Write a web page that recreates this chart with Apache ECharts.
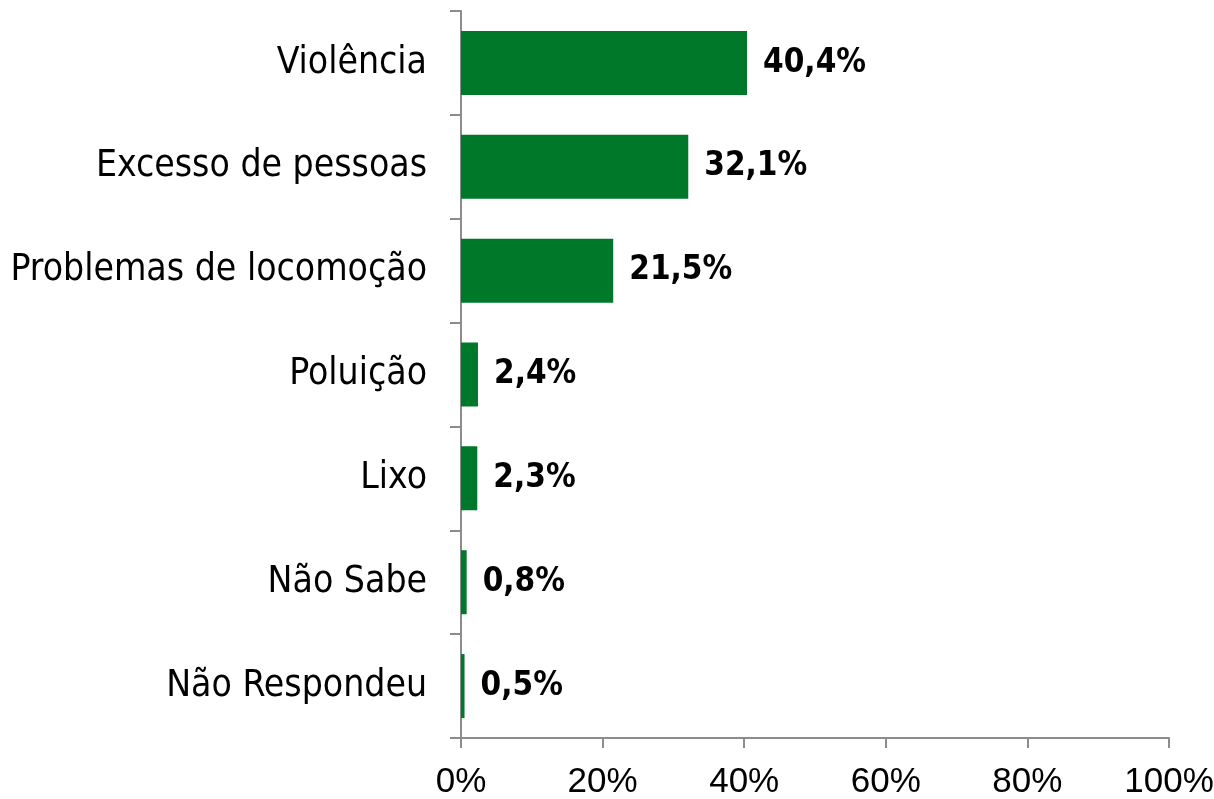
<!DOCTYPE html>
<html>
<head>
<meta charset="utf-8">
<script src="https://cdn.jsdelivr.net/npm/echarts@6/dist/echarts.min.js"></script>
<style>
  html, body { margin: 0; padding: 0; background: #fff; }
  #chart { width: 1214px; height: 799px; }
</style>
</head>
<body>
<div id="chart"></div>
<script>
// categories, top to bottom as in the picture
var categories = ['Violência', 'Excesso de pessoas', 'Problemas de locomoção', 'Poluição', 'Lixo', 'Não Sabe', 'Não Respondeu'];
var values = [40.4, 32.1, 21.5, 2.4, 2.3, 0.8, 0.5];
var xTicks = [0, 20, 40, 60, 80, 100];

var chart = echarts.init(document.getElementById('chart'));

var option = {
    animation: false,
    grid: {
        left: 461,
        right: 45,
        top: 11,
        bottom: 61,
        outerBoundsMode: 'none'
    },
    xAxis: {
        type: 'value',
        min: xTicks[0],
        max: xTicks[xTicks.length - 1],
        interval: 20,
        splitLine: { show: false },
        axisLine: { show: true, lineStyle: { color: '#8c8c8c', width: 2 } },
        axisTick: { show: true, length: 10, lineStyle: { color: '#8c8c8c', width: 2 } },
        axisLabel: {
            formatter: '{value}%',
            color: '#000',
            fontFamily: '"Liberation Sans Narrow", "Liberation Sans"',
            fontSize: 35,
            margin: 27
        }
    },
    yAxis: {
        type: 'category',
        inverse: true,
        data: categories,
        axisLine: { show: true, lineStyle: { color: '#8c8c8c', width: 2 } },
        axisTick: { show: true, length: 11, lineStyle: { color: '#8c8c8c', width: 2 } },
        axisLabel: {
            color: '#000',
            fontFamily: '"DejaVu Sans Condensed", "DejaVu Sans"',
            fontSize: 37,
            margin: 34
        }
    },
    series: [{
        type: 'bar',
        data: values,
        barWidth: 64,
        itemStyle: { color: '#00782a' },
        label: {
            show: true,
            position: 'right',
            distance: 16,
            color: '#000',
            fontFamily: '"DejaVu Sans Condensed", "DejaVu Sans"',
            fontWeight: 'bold',
            fontSize: 33,
            formatter: function (p) {
                return p.value.toFixed(1).replace('.', ',') + '%';
            }
        }
    }]
};

chart.setOption(option);
</script>
</body>
</html>
